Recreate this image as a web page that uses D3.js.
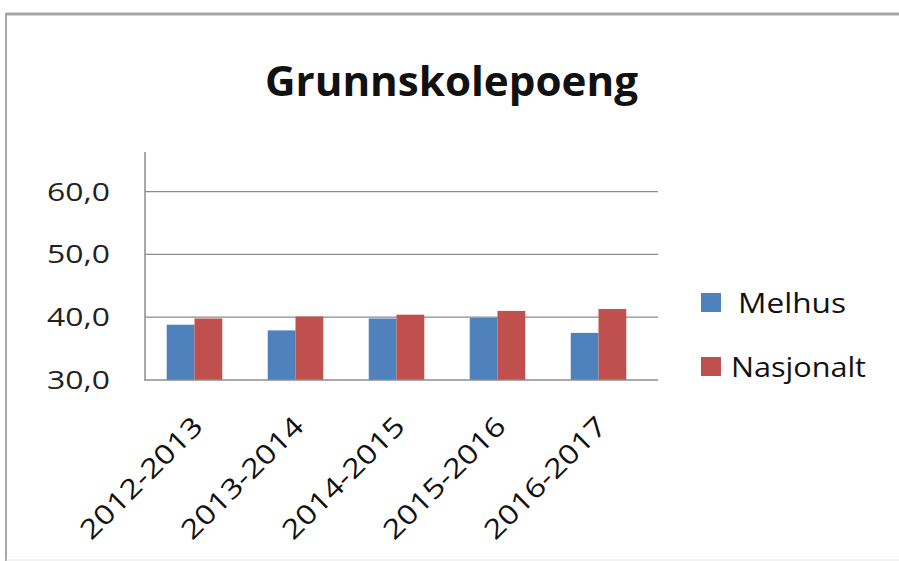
<!DOCTYPE html>
<html><head><meta charset="utf-8">
<script src="https://cdn.jsdelivr.net/npm/d3@7"></script>
<style>body{margin:0;background:#fff}svg{display:block}</style>
</head><body><svg id="c" width="899" height="561"></svg>
<script>
const categories = ["2012-2013","2013-2014","2014-2015","2015-2016","2016-2017"];
const seriesNames = ["Melhus","Nasjonalt"];
const melhus = [38.8, 37.9, 39.8, 39.9, 37.5];
const nasjonalt = [39.8, 40.1, 40.4, 41.0, 41.3];
const yTicks = [30, 40, 50, 60];
const colors = ["#4F81BD","#C0504D"];
const title = "Grunnskolepoeng";

const svg = d3.select("#c");
const font = "'Open Sans', 'Liberation Sans', sans-serif";

// frame
svg.append("line").attr("x1",6).attr("x2",899).attr("y1",14).attr("y2",14).attr("stroke","#a6a6a6").attr("stroke-width",3);
svg.append("line").attr("x1",6).attr("x2",6).attr("y1",13).attr("y2",561).attr("stroke","#a6a6a6").attr("stroke-width",2);
svg.append("line").attr("x1",6).attr("x2",899).attr("y1",560).attr("y2",560).attr("stroke","#e6e6e6").attr("stroke-width",1);

const x0 = 145, xGridEnd = 658, yBot = 380, yTop = 152;
const y = d3.scaleLinear().domain([30,60]).range([380,191.6]);
const x = d3.scaleBand().domain(categories).range([x0,648]).paddingInner(0.45).paddingOuter(0.215);
const xs = d3.scaleBand().domain(seriesNames).range([0,x.bandwidth()]);

// gridlines
svg.append("g").selectAll("line").data(yTicks.filter(t=>t>30)).join("line")
  .attr("x1",x0).attr("x2",xGridEnd).attr("y1",d=>y(d)).attr("y2",d=>y(d))
  .attr("stroke","#8c8c8c").attr("stroke-width",1.3);

// bars
const data = categories.map((c,i)=>({c, vals:[melhus[i], nasjonalt[i]]}));
const g = svg.append("g");
g.selectAll("g").data(data).join("g").attr("transform",d=>`translate(${x(d.c)},0)`)
  .selectAll("rect").data(d=>d.vals.map((v,j)=>({v,j}))).join("rect")
  .attr("x",d=>xs(seriesNames[d.j])).attr("width",xs.bandwidth())
  .attr("y",d=>y(d.v)).attr("height",d=>y(30)-y(d.v))
  .attr("fill",d=>colors[d.j]);

// axes lines
svg.append("line").attr("x1",x0).attr("x2",x0).attr("y1",yTop).attr("y2",yBot+1).attr("stroke","#8c8c8c").attr("stroke-width",1.5);
svg.append("line").attr("x1",x0).attr("x2",xGridEnd).attr("y1",yBot).attr("y2",yBot).attr("stroke","#8c8c8c").attr("stroke-width",1.5);

// y tick labels
svg.append("g").selectAll("text").data(yTicks).join("text")
  .attr("x",110).attr("y",d=>y(d)).attr("dy","0.36em").attr("text-anchor","end")
  .attr("font-family",font).attr("font-size",25).attr("fill","#222")
  .attr("textLength",63).attr("lengthAdjust","spacingAndGlyphs")
  .text(d=>d3.format(".1f")(d).replace(".",","));

// x labels
svg.append("g").selectAll("text").data(categories).join("text")
  .attr("transform",d=>`translate(${x(d)+x.bandwidth()/2+10},428) rotate(-45)`)
  .attr("text-anchor","end").attr("font-family",font).attr("font-size",27).attr("fill","#111")
  .attr("textLength",160).attr("lengthAdjust","spacingAndGlyphs")
  .text(d=>d);

// title
svg.append("text").attr("x",451.5).attr("y",96).attr("text-anchor","middle")
  .attr("font-family",font).attr("font-weight","bold").attr("font-size",42).attr("fill","#111")
  .attr("textLength",373).attr("lengthAdjust","spacingAndGlyphs")
  .text(title);

// legend
const legendText = [{x:738, w:108},{x:731, w:135}];
const leg = svg.append("g").selectAll("g").data(seriesNames).join("g")
  .attr("transform",(d,i)=>`translate(701,${293+i*64})`);
leg.append("rect").attr("width",20).attr("height",19).attr("fill",(d,i)=>colors[i]);
leg.append("text").attr("x",(d,i)=>legendText[i].x-701).attr("y",20.3)
  .attr("font-family",font).attr("font-size",27).attr("fill","#111")
  .attr("textLength",(d,i)=>legendText[i].w).attr("lengthAdjust","spacingAndGlyphs")
  .text(d=>d);
</script></body></html>
